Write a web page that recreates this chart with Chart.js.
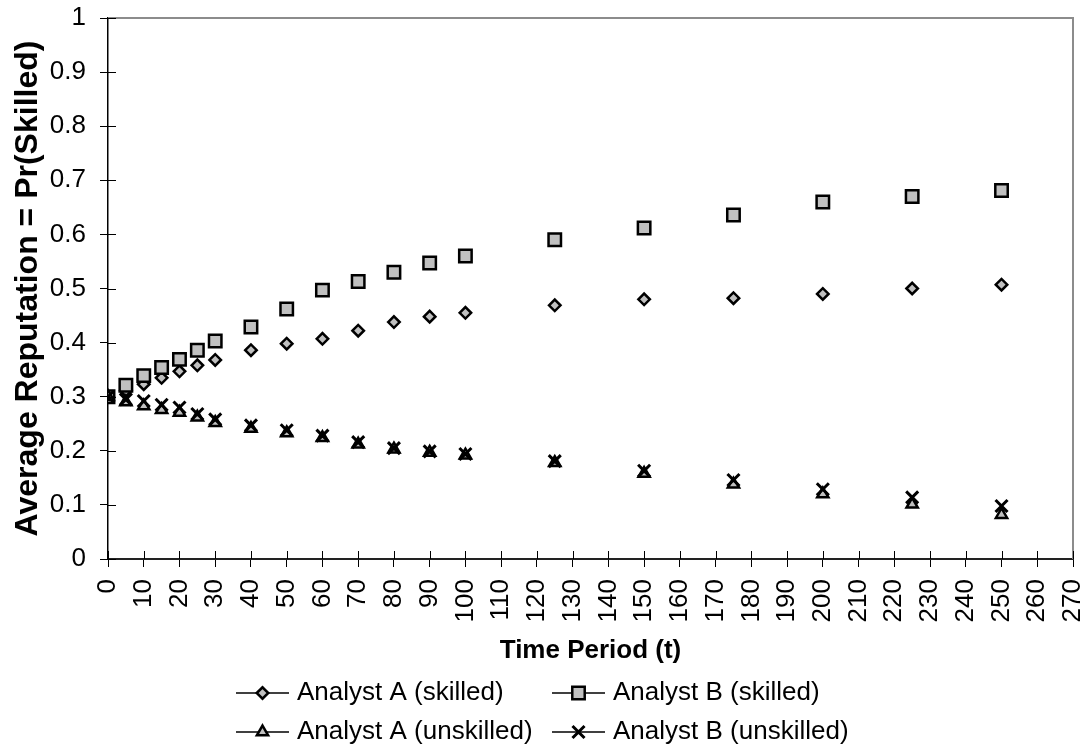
<!DOCTYPE html>
<html>
<head>
<meta charset="utf-8">
<title>Average Reputation over Time</title>
<script src="https://cdn.jsdelivr.net/npm/chart.js@4.4.1/dist/chart.umd.min.js"></script>
<style>
  html, body { margin: 0; padding: 0; background: #fff; }
  canvas { display: block; }
</style>
</head>
<body>
<canvas id="repChart" width="1086" height="753"></canvas>
<script>
// time periods where the reputation was sampled
let periods = [0, 5, 10, 15, 20, 25, 30, 40, 50, 60, 70, 80, 90, 100, 125, 150, 175, 200, 225, 250];

let analystASkilled   = [0.300, 0.311, 0.323, 0.335, 0.347, 0.358, 0.368, 0.386, 0.398, 0.407, 0.422, 0.438, 0.448, 0.455, 0.469, 0.480, 0.482, 0.490, 0.500, 0.507];
let analystBSkilled   = [0.300, 0.321, 0.339, 0.354, 0.369, 0.386, 0.403, 0.429, 0.462, 0.497, 0.513, 0.530, 0.547, 0.560, 0.590, 0.612, 0.636, 0.660, 0.670, 0.681];
let analystAUnskilled = [0.300, 0.290, 0.283, 0.276, 0.271, 0.262, 0.252, 0.241, 0.233, 0.224, 0.212, 0.203, 0.197, 0.192, 0.178, 0.158, 0.138, 0.120, 0.101, 0.082];
let analystBUnskilled = [0.300, 0.295, 0.292, 0.285, 0.280, 0.268, 0.258, 0.247, 0.238, 0.228, 0.216, 0.205, 0.199, 0.194, 0.181, 0.163, 0.146, 0.129, 0.114, 0.098];

let seriesNames = ['Analyst A (skilled)', 'Analyst B (skilled)', 'Analyst A (unskilled)', 'Analyst B (unskilled)'];
let seriesValues = [analystASkilled, analystBSkilled, analystAUnskilled, analystBUnskilled];

// axis ranges
let xMin = 0, xMax = 270, xStep = 10;
let yMin = 0, yMax = 1, yStep = 0.1;
let xTitle = 'Time Period (t)';
let yTitle = 'Average Reputation = Pr(Skilled)';

let fontFamily = "'Liberation Sans', Arial, Helvetica, sans-serif";
let markerStyles = ['rectRot', 'rect', 'triangle', 'crossRot'];
let markerRadius = [5.75, 8.8, 6.5, 8.5];
let markerBorder = [2.5, 2.5, 2.5, 3];

function toPoints(values) {
  let pts = [];
  for (let i = 0; i <= periods.length - 1; i++) {
    pts.push({x: periods[i], y: values[i]});
  }
  return pts;
}

let datasets = [];
for (let i = 0; i <= seriesNames.length - 1; i++) {
  datasets.push({
    label: seriesNames[i],
    data: toPoints(seriesValues[i]),
    showLine: false,
    pointStyle: markerStyles[i],
    pointRadius: markerRadius[i],
    pointHoverRadius: markerRadius[i],
    pointBorderWidth: markerBorder[i],
    pointBackgroundColor: '#c0c0c0',
    pointBorderColor: '#000',
    // later series sit on top, the way the spreadsheet stacks them
    order: seriesNames.length - 1 - i,
  });
}

// gray top/right frame plus the tick stubs that poke into the plot
const plotFrame = {
  id: 'plotFrame',
  afterDraw(chart) {
    let ctx = chart.ctx;
    let area = chart.chartArea;
    ctx.save();
    ctx.strokeStyle = '#8c8c8c';
    ctx.lineWidth = 2;
    ctx.beginPath();
    ctx.moveTo(area.left, area.top);
    ctx.lineTo(area.right, area.top);
    ctx.lineTo(area.right, area.bottom);
    ctx.stroke();

    ctx.strokeStyle = '#000';
    ctx.lineWidth = 1;
    let xs = chart.scales.x;
    xs.ticks.forEach((t) => {
      let px = Math.round(xs.getPixelForValue(t.value)) + 0.5;
      ctx.beginPath();
      ctx.moveTo(px, area.bottom);
      ctx.lineTo(px, area.bottom - 8);
      ctx.stroke();
    });
    let ys = chart.scales.y;
    ys.ticks.forEach((t) => {
      let py = Math.round(ys.getPixelForValue(t.value)) + 0.5;
      ctx.beginPath();
      ctx.moveTo(area.left, py);
      ctx.lineTo(area.left + 8, py);
      ctx.stroke();
    });
    ctx.restore();
  }
};

// two-column legend under the axis title
const gridLegend = {
  id: 'gridLegend',
  afterDraw(chart) {
    let ctx = chart.ctx;
    let colX = [236, 552];
    let rowY = [693, 732];
    let drawPoint = Chart.helpers && Chart.helpers.drawPoint;
    ctx.save();
    chart.data.datasets.forEach((ds, i) => {
      let x0 = colX[i % 2];
      let y = rowY[Math.floor(i / 2)];
      ctx.strokeStyle = '#000';
      ctx.lineWidth = 1.5;
      ctx.beginPath();
      ctx.moveTo(x0, y);
      ctx.lineTo(x0 + 53, y);
      ctx.stroke();

      ctx.fillStyle = ds.pointBackgroundColor;
      ctx.strokeStyle = ds.pointBorderColor;
      ctx.lineWidth = ds.pointBorderWidth;
      if (drawPoint) {
        drawPoint(ctx, {pointStyle: ds.pointStyle, radius: ds.pointRadius, rotation: 0, borderWidth: ds.pointBorderWidth}, x0 + 26.5, y);
      }

      ctx.fillStyle = '#000';
      ctx.font = '26px ' + fontFamily;
      ctx.textAlign = 'left';
      ctx.textBaseline = 'middle';
      ctx.fillText(ds.label, x0 + 61, y);
    });
    ctx.restore();
  }
};

let ctx = document.getElementById('repChart').getContext('2d');
let repChart = new Chart(ctx, {
  type: 'scatter',
  data: {datasets: datasets},
  plugins: [plotFrame, gridLegend],
  options: {
    responsive: false,
    animation: false,
    events: [],
    layout: {
      padding: {top: 18, right: 13, left: 0, bottom: 0},
    },
    plugins: {
      legend: {display: false},
      tooltip: {enabled: false},
    },
    scales: {
      x: {
        type: 'linear',
        min: xMin,
        max: xMax,
        afterFit: function(scale) {
          scale.height = 194;
          scale.paddingLeft = 0;
          scale.paddingRight = 0;
        },
        border: {display: true, color: '#222', width: 2},
        grid: {drawOnChartArea: false, drawTicks: true, tickLength: 8, color: '#000', lineWidth: 1},
        ticks: {
          stepSize: xStep,
          autoSkip: false,
          minRotation: 90,
          maxRotation: 90,
          padding: 12,
          color: '#000',
          font: {family: fontFamily, size: 26},
        },
        title: {
          display: true,
          text: xTitle,
          color: '#000',
          font: {family: fontFamily, size: 26, weight: 'bold'},
          padding: {top: 0, bottom: 87},
        },
      },
      y: {
        type: 'linear',
        min: yMin,
        max: yMax,
        afterFit: function(scale) {
          scale.width = 108;
          scale.paddingTop = 0;
          scale.paddingBottom = 0;
        },
        border: {display: true, color: '#000', width: 1.5},
        grid: {drawOnChartArea: false, drawTicks: true, tickLength: 8, color: '#000', lineWidth: 1},
        ticks: {
          stepSize: yStep,
          padding: 14,
          color: '#000',
          font: {family: fontFamily, size: 26},
          callback: function(value) {
            return String(Math.round(value * 10) / 10);
          },
        },
        title: {
          display: true,
          text: yTitle,
          color: '#000',
          font: {family: fontFamily, size: 32, weight: 'bold'},
          padding: {top: 9, bottom: 0},
        },
      },
    },
  },
});
</script>
</body>
</html>
